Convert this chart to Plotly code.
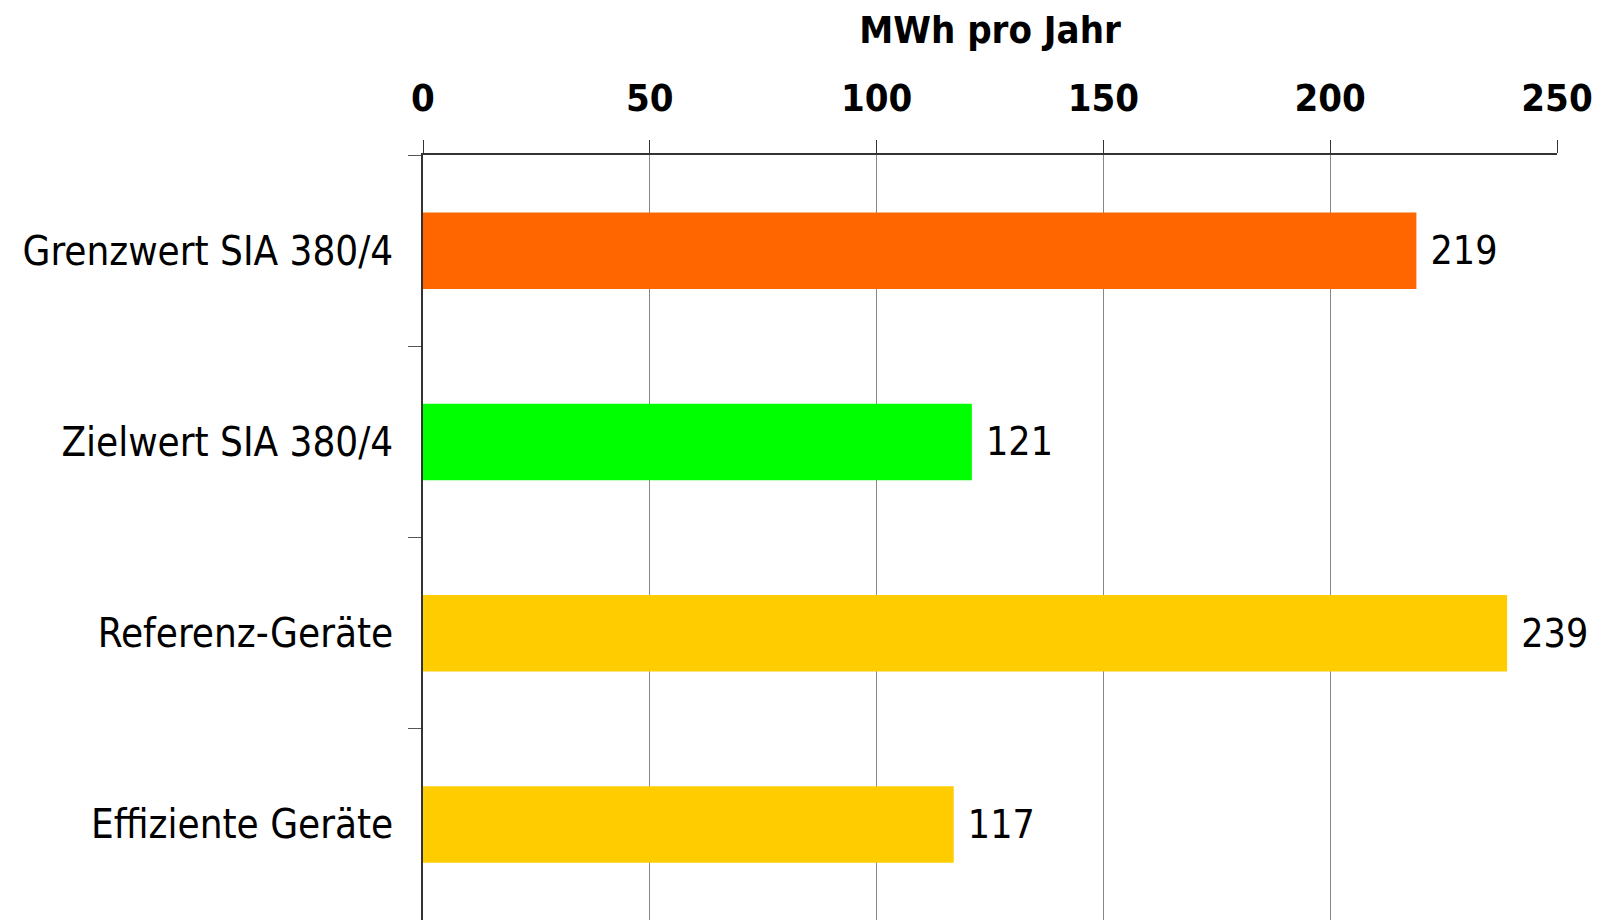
import plotly.graph_objects as go

categories = ["Grenzwert SIA 380/4", "Zielwert SIA 380/4", "Referenz-Geräte", "Effiziente Geräte"]
values = [219, 121, 239, 117]
bar_colors = ["#FF6600", "#00FF00", "#FFCC00", "#FFCC00"]
x_ticks = [0, 50, 100, 150, 200, 250]

FONT = "DejaVu Sans Condensed, Liberation Sans Narrow, Roboto, sans-serif"

fig = go.Figure()

fig.add_trace(go.Bar(
    x=values,
    y=categories,
    orientation="h",
    marker=dict(color=bar_colors, line=dict(width=0)),
    width=0.4,
    text=values,
    texttemplate=" %{x}",
    textposition="outside",
    constraintext="none",
    cliponaxis=False,
    textfont=dict(family=FONT, size=39, color="black"),
    showlegend=False,
))

# the page body adds an 8px offset, so margins are shifted to compensate
fig.update_layout(
    width=1601,
    height=920,
    margin=dict(l=415, r=52, t=147, b=8),
    plot_bgcolor="white",
    paper_bgcolor="white",
    font=dict(family=FONT, color="black"),
    xaxis=dict(
        side="top",
        automargin=False,
        range=[0, 250],
        tickvals=x_ticks,
        ticks="outside",
        ticklen=13,
        tickcolor="#333333",
        tickfont=dict(family=FONT, size=38, weight="bold"),
        ticklabelstandoff=14,
        showgrid=True,
        gridcolor="#888888",
        gridwidth=1.3,
        showline=True,
        linecolor="#333333",
        linewidth=1.5,
        zeroline=False,
        title=dict(
            text="MWh pro Jahr",
            font=dict(family=FONT, size=38, weight="bold"),
            standoff=28,
        ),
    ),
    yaxis=dict(
        automargin=False,
        autorange="reversed",
        range=[3.5, -0.5],
        tickson="boundaries",
        ticks="outside",
        ticklen=13,
        tickcolor="#555555",
        tickfont=dict(family=FONT, size=40),
        ticklabelstandoff=20,
        showgrid=False,
        showline=True,
        linecolor="#333333",
        linewidth=1.5,
        zeroline=False,
    ),
)

fig.write_html("out.html")
